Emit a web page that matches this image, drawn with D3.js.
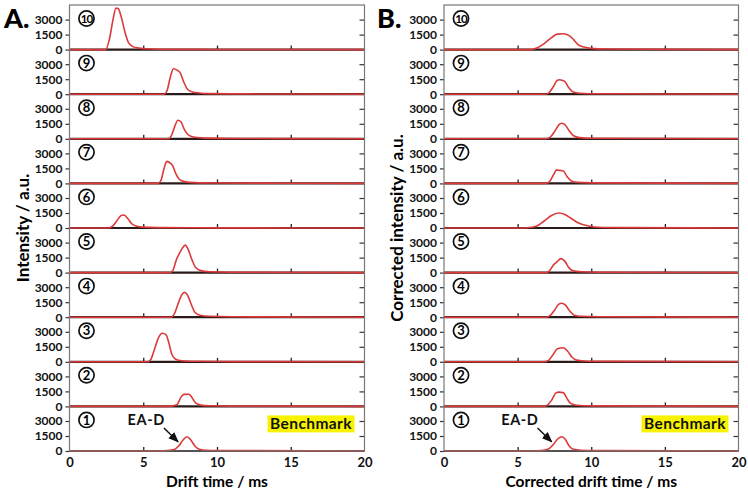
<!DOCTYPE html>
<html lang="en">
<head>
  <meta charset="UTF-8">
  <title>Drift time spectra</title>
  <script src="https://d3js.org/d3.v7.min.js"></script>
  <style>
    body { margin: 0; padding: 0; background: #fff; }
    svg { display: block; font-family: Lato, "Open Sans", sans-serif; font-weight: bold; }
  </style>
</head>
<body>
  <div id="chart"></div>
  <script>
    // trace points: [drift time (ms), intensity (a.u.)], panel number = suffix
    const a10 = [[0,0],[2.45,0],[2.7,1000],[2.95,3000],[3.15,4150],[3.3,4100],[3.5,3300],[3.75,1800],[4.0,700],[4.3,300],[4.7,150],[5.2,80],[6,40],[10,15],[20,0]];
    const a9 = [[0,0],[6.4,0],[6.6,300],[6.85,1800],[7.05,2550],[7.3,2400],[7.5,2150],[7.75,1200],[8.0,500],[8.3,250],[8.8,120],[9.5,60],[12,30],[20,0]];
    const a8 = [[0,0],[6.7,0],[6.9,300],[7.15,1300],[7.35,1850],[7.55,1700],[7.8,900],[8.1,350],[8.5,150],[9.2,70],[12,30],[20,0]];
    const a7 = [[0,0],[6.0,0],[6.2,300],[6.45,1700],[6.6,2200],[6.85,2000],[7.0,1750],[7.2,1000],[7.45,400],[7.8,180],[8.5,80],[10,40],[20,0]];
    const a6 = [[0,0],[2.6,0],[2.9,150],[3.2,700],[3.5,1250],[3.7,1300],[3.95,950],[4.2,450],[4.5,200],[5,90],[6,40],[10,15],[20,0]];
    const a5 = [[0,0],[6.8,0],[7.0,200],[7.25,1300],[7.45,1900],[7.65,2450],[7.85,2750],[8.05,2300],[8.3,1300],[8.55,500],[8.9,200],[9.5,90],[11,40],[20,0]];
    const a4 = [[0,0],[6.9,0],[7.1,300],[7.35,1300],[7.6,2200],[7.8,2500],[8.0,2200],[8.25,1300],[8.5,500],[8.85,200],[9.5,90],[11,40],[20,0]];
    const a3 = [[0,0],[5.3,0],[5.5,200],[5.75,1200],[6.0,2300],[6.3,2850],[6.55,2700],[6.75,1800],[6.95,700],[7.2,250],[7.6,100],[8.5,50],[11,20],[20,0]];
    const a2 = [[0,0],[6.5,0],[7.0,50],[7.3,200],[7.55,900],[7.75,1200],[8.1,1220],[8.3,900],[8.55,350],[8.9,130],[9.5,60],[11,30],[20,0]];
    const a1 = [[0,0],[6.0,0],[6.6,40],[7.1,150],[7.4,500],[7.7,1100],[7.95,1430],[8.2,1150],[8.5,500],[8.8,180],[9.3,80],[11,40],[20,0]];

    const b10 = [[0,0],[5.9,0],[6.3,150],[6.8,600],[7.3,1200],[7.7,1550],[8.1,1580],[8.5,1400],[8.8,1000],[9.1,500],[9.5,250],[10,120],[11,60],[20,0]];
    const b9 = [[0,0],[6.9,0],[7.1,100],[7.4,700],[7.7,1400],[7.85,1450],[8.2,1280],[8.45,700],[8.75,250],[9.2,100],[10,50],[20,0]];
    const b8 = [[0,0],[6.9,0],[7.2,150],[7.5,700],[7.8,1400],[8.0,1550],[8.25,1350],[8.5,800],[8.8,300],[9.2,120],[10,50],[20,0]];
    const b7 = [[0,0],[6.9,0],[7.15,150],[7.45,900],[7.65,1350],[7.85,1300],[8.1,1250],[8.35,700],[8.65,250],[9.1,100],[10,50],[20,0]];
    const b6 = [[0,0],[5.0,0],[5.8,50],[6.3,200],[6.8,700],[7.3,1250],[7.8,1500],[8.2,1350],[8.6,1000],[9.0,600],[9.4,350],[9.9,180],[10.5,80],[12,40],[20,0]];
    const b5 = [[0,0],[6.9,0],[7.15,150],[7.45,800],[7.65,1050],[7.95,1400],[8.2,1150],[8.5,450],[8.8,170],[9.3,80],[10.5,40],[20,0]];
    const b4 = [[0,0],[6.9,0],[7.2,150],[7.5,700],[7.8,1300],[8.0,1400],[8.25,1200],[8.55,600],[8.85,200],[9.3,90],[10.5,40],[20,0]];
    const b3 = [[0,0],[6.8,0],[7.1,150],[7.4,700],[7.7,1300],[8.1,1400],[8.4,1050],[8.7,450],[9.0,170],[9.5,80],[11,40],[20,0]];
    const b2 = [[0,0],[6.8,0],[7.0,100],[7.3,600],[7.6,1350],[7.8,1430],[8.1,1380],[8.35,800],[8.6,300],[9.0,120],[10,50],[20,0]];
    const b1 = [[0,0],[6.0,0],[6.6,40],[7.1,200],[7.45,700],[7.75,1250],[8.0,1430],[8.25,1150],[8.5,500],[8.8,170],[9.3,80],[11,40],[20,0]];

    // top to bottom
    const panelNums = [10, 9, 8, 7, 6, 5, 4, 3, 2, 1];
    const tracesA = [a10, a9, a8, a7, a6, a5, a4, a3, a2, a1];
    const tracesB = [b10, b9, b8, b7, b6, b5, b4, b3, b2, b1];
    const yTicks = [0, 1500, 3000];
    const xTicks = [0, 5, 10, 15, 20];
    const xInnerTicks = [5, 10, 15];
    // annotation on panel 1: label anchor and arrow [t, v]
    const eaLabel = [5.2, 2650];
    const eaArrow = [[6.4, 2300], [7.36, 930]];

    const W = 748, H = 492;
    const plotTop = 5, plotBottom = 451;
    const panelH = (plotBottom - plotTop) / panelNums.length;
    const yMax = 4460;

    const svg = d3.select("#chart").append("svg")
      .attr("width", W).attr("height", H);

    svg.append("defs").append("marker")
      .attr("id", "arrow")
      .attr("viewBox", "0 0 10 10")
      .attr("refX", 9).attr("refY", 5)
      .attr("markerWidth", 7).attr("markerHeight", 7)
      .attr("orient", "auto")
      .append("path")
      .attr("d", "M0,1 L10,5 L0,9 Z")
      .attr("fill", "#111");

    function drawBlock(cfg) {
      const x = d3.scaleLinear().domain([0, 20]).range([cfg.left, cfg.right]);
      const g = svg.append("g");

      // letter
      g.append("text")
        .attr("x", cfg.letterX).attr("y", 28)
        .attr("font-size", 27).attr("font-weight", 900).attr("fill", "#000")
        .text(cfg.letter);

      // y title
      g.append("text")
        .attr("transform", `translate(${cfg.titleX},${(plotTop + plotBottom) / 2}) rotate(-90)`)
        .attr("text-anchor", "middle").attr("dy", "0.35em")
        .attr("font-size", 17).attr("fill", "#000")
        .text(cfg.yTitle);

      cfg.traces.forEach((pts, i) => {
        const y0 = plotTop + panelH * (i + 1);
        const y = d3.scaleLinear().domain([0, yMax]).range([y0, y0 - panelH]);

        // left axis with labels
        const ax = g.append("g")
          .attr("transform", `translate(${cfg.left},0)`)
          .call(d3.axisLeft(y).tickValues(yTicks).tickSize(4).tickPadding(3).tickFormat(d3.format("d")));
        ax.select(".domain").remove();
        ax.selectAll("line").attr("stroke", "#333").attr("stroke-width", 1.2);
        ax.selectAll("text").attr("font-size", 12).attr("font-weight", "bold")
          .attr("font-family", "Lato, sans-serif").attr("fill", "#111");

        // right inner ticks
        const rx = g.append("g")
          .attr("transform", `translate(${cfg.right},0)`)
          .call(d3.axisLeft(y).tickValues([1500, 3000]).tickSize(5).tickFormat(""));
        rx.select(".domain").remove();
        rx.selectAll("line").attr("stroke", "#333").attr("stroke-width", 1.2);

        // x inner ticks
        const tx = g.append("g")
          .attr("transform", `translate(0,${y0})`)
          .call(d3.axisTop(x).tickValues(xInnerTicks).tickSize(4).tickFormat(""));
        tx.select(".domain").remove();
        tx.selectAll("line").attr("stroke", "#222").attr("stroke-width", 1.3);

        // baseline
        g.append("line")
          .attr("x1", cfg.left).attr("x2", cfg.right)
          .attr("y1", y0).attr("y2", y0)
          .attr("stroke", "#2a1a1a").attr("stroke-width", 2.2);

        // trace
        const line = d3.line()
          .x(d => x(d[0])).y(d => y(d[1]))
          .curve(d3.curveMonotoneX);
        g.append("path")
          .datum(pts)
          .attr("fill", "none")
          .attr("stroke", "#dc3a3a")
          .attr("stroke-width", 1.6)
          .attr("d", line);

        // circled panel number
        const cy = y0 - panelH + 13.5;
        const cx = cfg.left + 17;
        g.append("circle")
          .attr("cx", cx).attr("cy", cy).attr("r", 7.6)
          .attr("fill", "#fff").attr("stroke", "#111").attr("stroke-width", 1.7);
        g.append("text")
          .attr("x", cx).attr("y", cy).attr("dy", "0.36em")
          .attr("text-anchor", "middle")
          .attr("font-size", panelNums[i] > 9 ? 11.5 : 13)
          .attr("letter-spacing", panelNums[i] > 9 ? -0.8 : 0)
          .attr("fill", "#000")
          .text(panelNums[i]);

        // annotations on the bottom panel
        if (i === cfg.traces.length - 1) {
          g.append("text")
            .attr("x", x(eaLabel[0] + cfg.eaShift)).attr("y", y(eaLabel[1]))
            .attr("text-anchor", "middle")
            .attr("font-size", 14.5).attr("letter-spacing", 0.6).attr("fill", "#111")
            .text("EA-D");
          g.append("line")
            .attr("x1", x(eaArrow[0][0] + cfg.eaShift)).attr("y1", y(eaArrow[0][1]))
            .attr("x2", x(eaArrow[1][0] + cfg.eaShift)).attr("y2", y(eaArrow[1][1]))
            .attr("stroke", "#111").attr("stroke-width", 1.5)
            .attr("marker-end", "url(#arrow)");

          const bw = 87, bh = 17;
          const bx = cfg.right - 10 - bw;
          g.append("rect")
            .attr("x", bx).attr("y", y0 - panelH + 9)
            .attr("width", bw).attr("height", bh)
            .attr("fill", "#f7f300");
          g.append("text")
            .attr("x", bx + bw / 2).attr("y", y0 - panelH + 9 + bh / 2).attr("dy", "0.36em")
            .attr("text-anchor", "middle")
            .attr("font-size", 15.5).attr("letter-spacing", 0.4).attr("fill", "#111")
            .text("Benchmark");

          // bottom axis labels
          const bx2 = g.append("g")
            .attr("transform", `translate(0,${y0})`)
            .call(d3.axisBottom(x).tickValues(xTicks).tickSize(0).tickPadding(7));
          bx2.select(".domain").remove();
          bx2.selectAll("text").attr("font-size", 13).attr("font-weight", "bold")
            .attr("font-family", "Lato, sans-serif").attr("fill", "#111");
        }
      });

      // frame
      g.append("rect")
        .attr("x", cfg.left).attr("y", plotTop)
        .attr("width", cfg.right - cfg.left).attr("height", plotBottom - plotTop)
        .attr("fill", "none").attr("stroke", "#777").attr("stroke-width", 1.2);

      // x title
      g.append("text")
        .attr("x", (cfg.left + cfg.right) / 2).attr("y", 487)
        .attr("text-anchor", "middle")
        .attr("font-size", 15.5).attr("fill", "#000")
        .text(cfg.xTitle);
    }

    drawBlock({
      letter: "A.", letterX: 4, left: 69.5, right: 364.5, titleX: 23,
      yTitle: "Intensity / a.u.", xTitle: "Drift time / ms",
      traces: tracesA, eaShift: 0
    });
    drawBlock({
      letter: "B.", letterX: 377, left: 444, right: 738.5, titleX: 397,
      yTitle: "Corrected intensity / a.u.", xTitle: "Corrected drift time / ms",
      traces: tracesB, eaShift: -0.05
    });
  </script>
</body>
</html>
